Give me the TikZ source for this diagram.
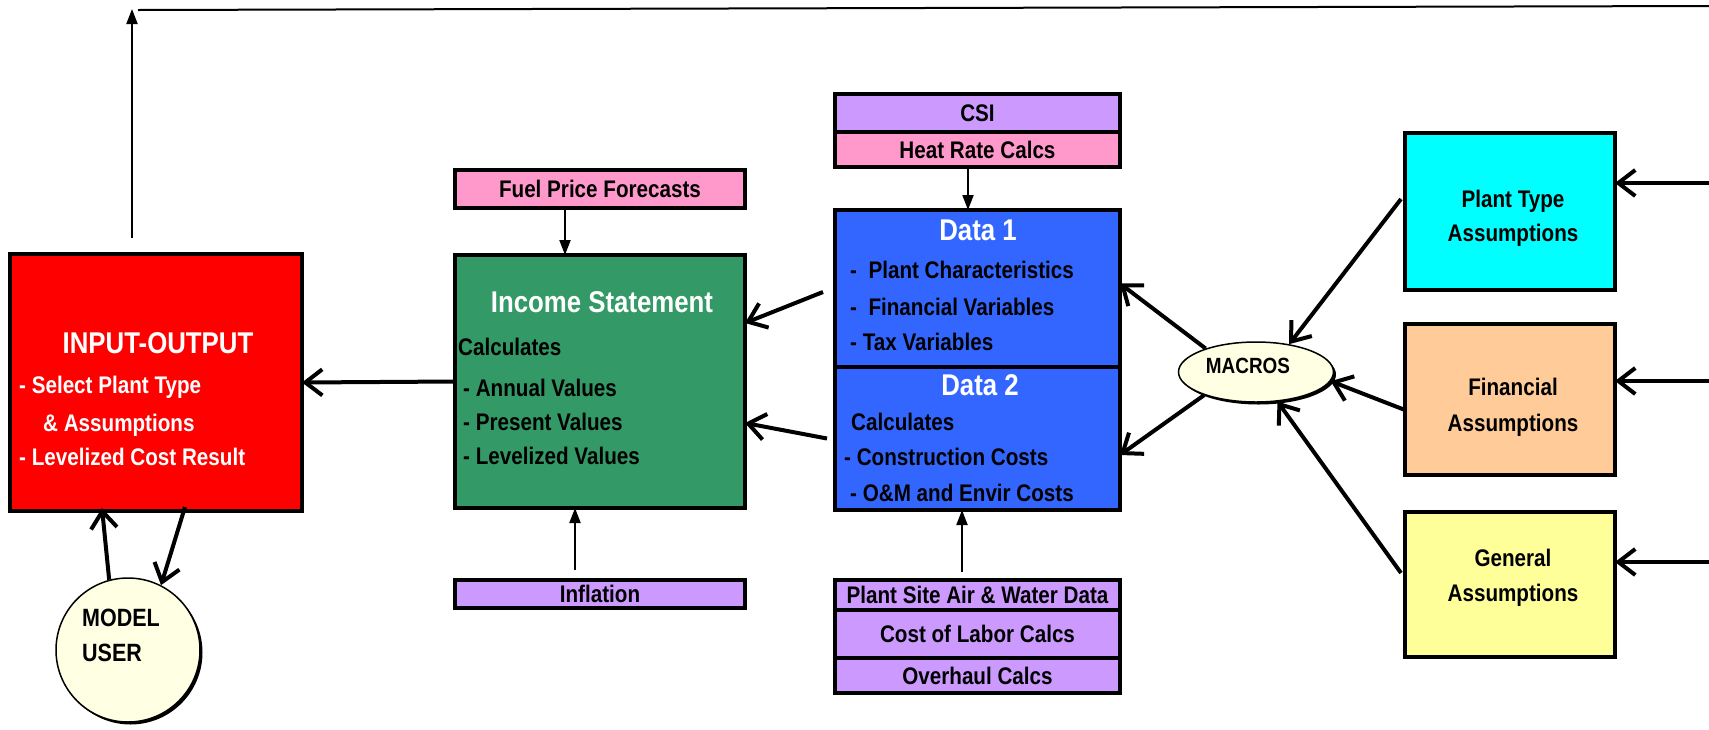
\documentclass[tikz,border=0pt]{standalone}
\usepackage{fontspec}
\setmainfont{Liberation Sans}[FakeStretch=0.86]
\usetikzlibrary{arrows.meta,shapes.geometric,shadows}

\definecolor{ioRed}{HTML}{FF0000}
\definecolor{incGreen}{HTML}{339966}
\definecolor{dataBlue}{HTML}{3366FF}
\definecolor{lilac}{HTML}{CC99FF}
\definecolor{rose}{HTML}{FF99CC}
\definecolor{aqua}{HTML}{00FFFF}
\definecolor{peach}{HTML}{FFCC99}
\definecolor{lemon}{HTML}{FFFF99}
\definecolor{cream}{HTML}{FFFFE3}

\tikzset{
  box/.style={draw, line width=4pt, inner sep=0pt, outer sep=0pt},
  ttl/.style={inner sep=0pt, text=white, text height=21.5pt, text depth=0pt,
    font=\fontsize{30}{36}\selectfont\bfseries},
  lbl/.style={inner sep=0pt, text height=17pt, text depth=0pt,
    font=\fontsize{24}{30}\selectfont\bfseries},
  lblu/.style={inner sep=0pt, text height=18pt, text depth=0pt,
    font=\fontsize{25}{30}\selectfont\bfseries},
  lblm/.style={inner sep=0pt, text height=15.7pt, text depth=0pt,
    font=\fontsize{22}{26}\selectfont\bfseries},
  big/.style={line width=4pt, -{Straight Barb[length=17pt,width=26pt]}},
  thin/.style={line width=2pt, -{Triangle[length=15pt,width=11pt]}},
  shade/.style={drop shadow={shadow xshift=2.5pt, shadow yshift=-2.5pt, opacity=1, fill=black}},
}

\begin{document}
\begin{tikzpicture}[x=1pt, y=-1pt]
    \useasboundingbox (0,0) rectangle (1709,729);

    % main boxes
    \node [box, fill=ioRed, minimum width=292pt, minimum height=257pt] (io) at (156,382.5) {};
    \node [box, fill=incGreen, minimum width=290pt, minimum height=253pt] (inc) at (600,381.5) {};
    \node [box, fill=dataBlue, minimum width=285pt, minimum height=157pt] (d1) at (977.5,288.5) {};
    \node [box, fill=dataBlue, minimum width=285pt, minimum height=143pt] (d2) at (977.5,438.5) {};

    % input boxes
    \node [box, lbl, fill=rose, minimum width=290pt, minimum height=38pt] (fuel) at (600,189) {Fuel Price Forecasts};
    \node [box, lbl, fill=lilac, minimum width=290pt, minimum height=28pt] (infl) at (600,594) {Inflation};
    \node [box, lbl, fill=lilac, minimum width=285pt, minimum height=38pt] (csi) at (977.5,113) {CSI};
    \node [box, lbl, fill=rose, minimum width=285pt, minimum height=35pt] (heat) at (977.5,149.5) {Heat Rate Calcs};
    \node [box, lbl, fill=lilac, minimum width=285pt, minimum height=30pt] (site) at (977.5,595) {Plant Site Air \& Water Data};
    \node [box, lbl, fill=lilac, minimum width=285pt, minimum height=48pt] (labor) at (977.5,634) {Cost of Labor Calcs};
    \node [box, lbl, fill=lilac, minimum width=285pt, minimum height=35pt] (overh) at (977.5,675.5) {Overhaul Calcs};

    % assumption boxes
    \node [box, fill=aqua, minimum width=210pt, minimum height=157pt] (ptype) at (1510,211.5) {};
    \node [box, fill=peach, minimum width=210pt, minimum height=151pt] (fin) at (1510,399.5) {};
    \node [box, fill=lemon, minimum width=210pt, minimum height=145pt] (gen) at (1510,584.5) {};

    % user and macros
    \node [circle, draw, line width=1.5pt, fill=cream, shade, minimum size=144pt] (user) at (128,650) {};
    \node [ellipse, draw, line width=1.5pt, fill=cream, shade, minimum width=155pt, minimum height=60pt] (macros) at (1256,372) {};

    % box texts
    \node [ttl] (io-t) at (158,343) {INPUT-OUTPUT};
    \node [lbl, text=white, anchor=west] (io-a) at (19,385) {- Select Plant Type};
    \node [lbl, text=white, anchor=west] (io-b) at (43,423) {\& Assumptions};
    \node [lbl, text=white, anchor=west] (io-c) at (19,457) {- Levelized Cost Result};
    \node [ttl] (inc-t) at (602,302) {Income Statement};
    \node [lbl, anchor=west] (inc-a) at (458,347) {Calculates};
    \node [lbl, anchor=west] (inc-b) at (463,388) {- Annual Values};
    \node [lbl, anchor=west] (inc-c) at (463,422) {- Present Values};
    \node [lbl, anchor=west] (inc-d) at (463,456) {- Levelized Values};
    \node [ttl] (d1-t) at (978,230) {Data 1};
    \node [lbl, anchor=west] (d1-a) at (850,270) {-\ \ Plant Characteristics};
    \node [lbl, anchor=west] (d1-b) at (850,307) {-\ \ Financial Variables};
    \node [lbl, anchor=west] (d1-c) at (850,342) {- Tax Variables};
    \node [ttl] (d2-t) at (980,385) {Data 2};
    \node [lbl, anchor=west] (d2-a) at (851,422) {Calculates};
    \node [lbl, anchor=west] (d2-b) at (844,457) {- Construction Costs};
    \node [lbl, anchor=west] (d2-c) at (850,493) {- O\&M and Envir Costs};
    \node [lbl] (ptype-a) at (1513,199) {Plant Type};
    \node [lbl] (ptype-b) at (1513,233) {Assumptions};
    \node [lbl] (fin-a) at (1513,387) {Financial};
    \node [lbl] (fin-b) at (1513,423) {Assumptions};
    \node [lbl] (gen-a) at (1513,558) {General};
    \node [lbl] (gen-b) at (1513,593) {Assumptions};
    \node [lblm] (macros-t) at (1248,366) {MACROS};
    \node [lblu, anchor=west] (user-a) at (82,617) {MODEL};
    \node [lblu, anchor=west] (user-b) at (82,652) {USER};

    % free ends
    \coordinate (in1) at (1709,183);
    \coordinate (in2) at (1709,381);
    \coordinate (in3) at (1709,562);
    \coordinate (fbTop) at (132,9);
    \coordinate (fbL) at (138,10);
    \coordinate (fbR) at (1709,6);

    % connectors
    \draw [big] (inc.west) -- (io.east);
    \draw [big] ([xshift=-12pt,yshift=-3.5pt]d1.west) -- ([yshift=58.5pt]inc.east);
    \draw [big] ([xshift=-8pt]d2.west) -- ([yshift=-41.5pt]inc.east);
    \draw [thin] ([xshift=-35pt]fuel.south) -- ([xshift=-35pt]inc.north);
    \draw [thin] ([xshift=-25pt,yshift=10pt]infl.north) -- ([xshift=-25pt]inc.south);
    \draw [thin] ([xshift=-9.5pt]heat.south) -- ([xshift=-9.5pt]d1.north);
    \draw [thin] ([xshift=-15.5pt,yshift=8pt]site.north) -- ([xshift=-15.5pt]d2.south);
    \draw [big] (user.105) -- ([xshift=-54pt,yshift=3pt]io.south);
    \draw [big] ([xshift=29pt,yshift=4pt]io.south) -- (user.63);
    \draw [big] ([xshift=-4pt,yshift=12.5pt]ptype.west) -- (macros.40);
    \draw [big] ([yshift=-10.5pt]fin.west) -- (macros.-7);
    \draw [big] ([xshift=-4pt,yshift=11.5pt]gen.west) -- (macros.-54);
    \draw [big] (macros.155) -- ([yshift=5pt]d1.east);
    \draw [big] (macros.204) -- ([yshift=-16.5pt]d2.east);
    \draw [big] (in1) -- ([yshift=28.5pt]ptype.east);
    \draw [big] (in2) -- ([yshift=18.5pt]fin.east);
    \draw [big] (in3) -- ([yshift=22.5pt]gen.east);
    \draw [thin] ([xshift=-24pt,yshift=16pt]io.north) -- (fbTop);
    \draw [line width=2pt] (fbL) -- (fbR);
\end{tikzpicture}
\end{document}
